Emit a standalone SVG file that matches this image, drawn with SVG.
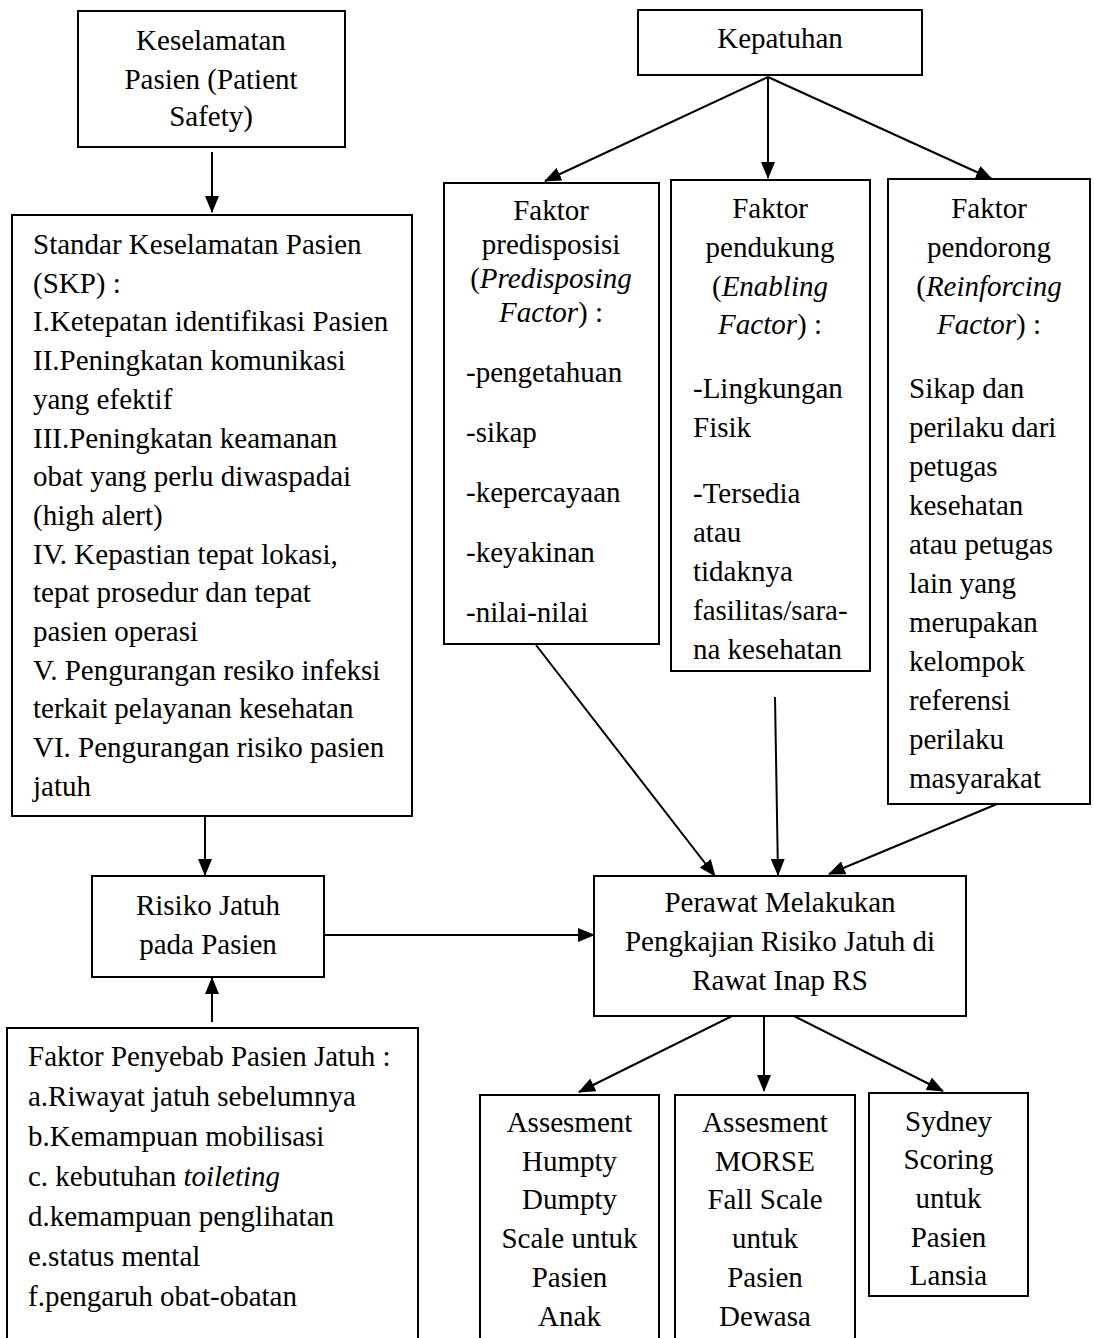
<svg xmlns="http://www.w3.org/2000/svg" width="1094" height="1338" viewBox="0 0 1094 1338">
<style>
  .box { fill: #ffffff; stroke: #000000; stroke-width: 2; }
  .t { font-family: "Liberation Serif", "Times New Roman", serif; font-size: 29px; fill: #000000; }
  .c { text-anchor: middle; }
  .i { font-style: italic; }
  .conn { stroke: #000000; stroke-width: 2; fill: none; marker-end: url(#arr); }
</style>
<defs>
  <marker id="arr" markerUnits="userSpaceOnUse" markerWidth="18" markerHeight="14" refX="16" refY="7" orient="auto">
    <path d="M0,0 L17,7 L0,14 Z" fill="#000000"/>
  </marker>
</defs>
<rect width="1094" height="1338" fill="#ffffff"/>

<g id="connectors">
  <line class="conn" x1="212" y1="152" x2="212" y2="212"/>
  <line class="conn" x1="768" y1="77" x2="545" y2="181"/>
  <line class="conn" x1="768" y1="77" x2="768" y2="178"/>
  <line class="conn" x1="768" y1="77" x2="992" y2="179"/>
  <line class="conn" x1="536" y1="645" x2="715" y2="876"/>
  <line class="conn" x1="775" y1="697" x2="778" y2="875"/>
  <line class="conn" x1="997" y1="804" x2="829" y2="874"/>
  <line class="conn" x1="205" y1="816" x2="205" y2="875"/>
  <line class="conn" x1="212" y1="1022" x2="212" y2="978"/>
  <line class="conn" x1="324" y1="935" x2="594" y2="935"/>
  <line class="conn" x1="732" y1="1016" x2="579" y2="1092"/>
  <line class="conn" x1="764" y1="1016" x2="764" y2="1091"/>
  <line class="conn" x1="794" y1="1016" x2="943" y2="1091"/>
</g>

<g id="keselamatan">
  <rect class="box" x="78" y="11" width="267" height="136"/>
  <text class="t c" x="211" y="50">Keselamatan</text>
  <text class="t c" x="211" y="89">Pasien (Patient</text>
  <text class="t c" x="211" y="126">Safety)</text>
</g>

<g id="skp">
  <rect class="box" x="12" y="215" width="400" height="601"/>
  <text class="t" x="33" y="254">Standar Keselamatan Pasien</text>
  <text class="t" x="33" y="292.7">(SKP) :</text>
  <text class="t" x="33" y="331.4">I.Ketepatan identifikasi Pasien</text>
  <text class="t" x="33" y="370.1">II.Peningkatan komunikasi</text>
  <text class="t" x="33" y="408.8">yang efektif</text>
  <text class="t" x="33" y="447.5">III.Peningkatan keamanan</text>
  <text class="t" x="33" y="486.2">obat yang perlu diwaspadai</text>
  <text class="t" x="33" y="524.9">(high alert)</text>
  <text class="t" x="33" y="563.6">IV. Kepastian tepat lokasi,</text>
  <text class="t" x="33" y="602.3">tepat prosedur dan tepat</text>
  <text class="t" x="33" y="641">pasien operasi</text>
  <text class="t" x="33" y="679.7">V. Pengurangan resiko infeksi</text>
  <text class="t" x="33" y="718.4">terkait pelayanan kesehatan</text>
  <text class="t" x="33" y="757.1">VI. Pengurangan risiko pasien</text>
  <text class="t" x="33" y="795.8">jatuh</text>
</g>

<g id="kepatuhan">
  <rect class="box" x="638" y="10" width="284" height="65"/>
  <text class="t c" x="780" y="48">Kepatuhan</text>
</g>

<g id="predisposing">
  <rect class="box" x="444" y="183" width="215" height="461"/>
  <text class="t c" x="551" y="220">Faktor</text>
  <text class="t c" x="551" y="254">predisposisi</text>
  <text class="t c" x="551" y="288">(<tspan class="i">Predisposing</tspan></text>
  <text class="t c" x="551" y="322"><tspan class="i">Factor</tspan>) :</text>
  <text class="t" x="466" y="382">-pengetahuan</text>
  <text class="t" x="466" y="442">-sikap</text>
  <text class="t" x="466" y="502">-kepercayaan</text>
  <text class="t" x="466" y="562">-keyakinan</text>
  <text class="t" x="466" y="622">-nilai-nilai</text>
</g>

<g id="enabling">
  <rect class="box" x="671" y="180" width="199" height="491"/>
  <text class="t c" x="770" y="218">Faktor</text>
  <text class="t c" x="770" y="257">pendukung</text>
  <text class="t c" x="770" y="296">(<tspan class="i">Enabling</tspan></text>
  <text class="t c" x="770" y="334"><tspan class="i">Factor</tspan>) :</text>
  <text class="t" x="693" y="398">-Lingkungan</text>
  <text class="t" x="693" y="437">Fisik</text>
  <text class="t" x="693" y="503">-Tersedia</text>
  <text class="t" x="693" y="542">atau</text>
  <text class="t" x="693" y="581">tidaknya</text>
  <text class="t" x="693" y="620">fasilitas/sara-</text>
  <text class="t" x="693" y="659">na kesehatan</text>
</g>

<g id="reinforcing">
  <rect class="box" x="888" y="179" width="202" height="625"/>
  <text class="t c" x="989" y="218">Faktor</text>
  <text class="t c" x="989" y="257">pendorong</text>
  <text class="t c" x="989" y="296">(<tspan class="i">Reinforcing</tspan></text>
  <text class="t c" x="989" y="334"><tspan class="i">Factor</tspan>) :</text>
  <text class="t" x="909" y="398">Sikap dan</text>
  <text class="t" x="909" y="437">perilaku dari</text>
  <text class="t" x="909" y="476">petugas</text>
  <text class="t" x="909" y="515">kesehatan</text>
  <text class="t" x="909" y="554">atau petugas</text>
  <text class="t" x="909" y="593">lain yang</text>
  <text class="t" x="909" y="632">merupakan</text>
  <text class="t" x="909" y="671">kelompok</text>
  <text class="t" x="909" y="710">referensi</text>
  <text class="t" x="909" y="749">perilaku</text>
  <text class="t" x="909" y="788">masyarakat</text>
</g>

<g id="risiko">
  <rect class="box" x="92" y="876" width="232" height="101"/>
  <text class="t c" x="208" y="915">Risiko Jatuh</text>
  <text class="t c" x="208" y="954">pada Pasien</text>
</g>

<g id="perawat">
  <rect class="box" x="594" y="876" width="372" height="140"/>
  <text class="t c" x="780" y="912">Perawat Melakukan</text>
  <text class="t c" x="780" y="951">Pengkajian Risiko Jatuh di</text>
  <text class="t c" x="780" y="990">Rawat Inap RS</text>
</g>

<g id="penyebab">
  <rect class="box" x="7" y="1028" width="411" height="320"/>
  <text class="t" x="28" y="1066">Faktor Penyebab Pasien Jatuh :</text>
  <text class="t" x="28" y="1106">a.Riwayat jatuh sebelumnya</text>
  <text class="t" x="28" y="1146">b.Kemampuan mobilisasi</text>
  <text class="t" x="28" y="1186">c. kebutuhan <tspan class="i">toileting</tspan></text>
  <text class="t" x="28" y="1226">d.kemampuan penglihatan</text>
  <text class="t" x="28" y="1266">e.status mental</text>
  <text class="t" x="28" y="1306">f.pengaruh obat-obatan</text>
</g>

<g id="humpty">
  <rect class="box" x="480" y="1095" width="179" height="260"/>
  <text class="t c" x="569.5" y="1132">Assesment</text>
  <text class="t c" x="569.5" y="1171">Humpty</text>
  <text class="t c" x="569.5" y="1209">Dumpty</text>
  <text class="t c" x="569.5" y="1248">Scale untuk</text>
  <text class="t c" x="569.5" y="1287">Pasien</text>
  <text class="t c" x="569.5" y="1326">Anak</text>
</g>

<g id="morse">
  <rect class="box" x="675" y="1095" width="180" height="260"/>
  <text class="t c" x="765" y="1132">Assesment</text>
  <text class="t c" x="765" y="1171">MORSE</text>
  <text class="t c" x="765" y="1209">Fall Scale</text>
  <text class="t c" x="765" y="1248">untuk</text>
  <text class="t c" x="765" y="1287">Pasien</text>
  <text class="t c" x="765" y="1326">Dewasa</text>
</g>

<g id="sydney">
  <rect class="box" x="869" y="1093" width="159" height="203"/>
  <text class="t c" x="948.5" y="1131">Sydney</text>
  <text class="t c" x="948.5" y="1169">Scoring</text>
  <text class="t c" x="948.5" y="1208">untuk</text>
  <text class="t c" x="948.5" y="1247">Pasien</text>
  <text class="t c" x="948.5" y="1285">Lansia</text>
</g>
</svg>
